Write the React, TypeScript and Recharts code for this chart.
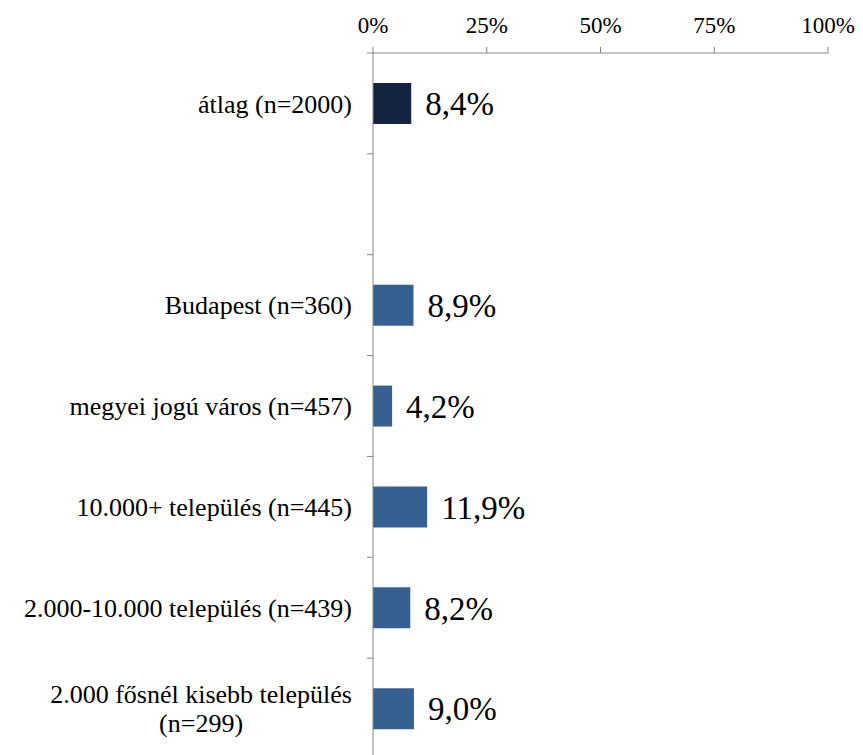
import React from 'react';
import { BarChart, Bar, XAxis, YAxis, Cell, LabelList } from 'recharts';

const categories = [
  'átlag (n=2000)',
  '',
  'Budapest (n=360)',
  'megyei jogú város (n=457)',
  '10.000+ település (n=445)',
  '2.000-10.000 település (n=439)',
  '2.000 fősnél kisebb település\n(n=299)',
];
const shares = [8.4, null, 8.9, 4.2, 11.9, 8.2, 9.0];
const percentTicks = [0, 25, 50, 75, 100];

const data = categories.map((name, i) => ({ name, value: shares[i] }));

const FONT = "'Liberation Serif', 'Times New Roman', Tinos, 'DejaVu Serif', serif";
const AXIS_GRAY = '#868686';
const W = 863;
const H = 760;
const MARGIN = { top: 8, right: 35, bottom: 1, left: 0 };
const X_AXIS_H = 45;
const BAND = (H - MARGIN.top - MARGIN.bottom - X_AXIS_H) / categories.length;
const LABEL_SIZE = 26;
const LINE_H = 29;

let ctx: CanvasRenderingContext2D | null = null;
const measure = (s: string) => {
  if (!ctx) ctx = document.createElement('canvas').getContext('2d');
  if (!ctx) return s.length * LABEL_SIZE * 0.45;
  ctx.font = `${LABEL_SIZE}px ${FONT}`;
  return ctx.measureText(s).width;
};

const CategoryTick = (props: any) => {
  const { x, y, payload } = props;
  const axisX = x + 21;
  const lines = String(payload.value).split('\n').filter((l) => l.length > 0);
  const widest = Math.max(0, ...lines.map(measure));
  const centerX = x - widest / 2;
  const firstY = y - ((lines.length - 1) * LINE_H) / 2;
  return (
    <g>
      <line x1={axisX - 6} x2={axisX} y1={y - BAND / 2} y2={y - BAND / 2} stroke={AXIS_GRAY} />
      {lines.map((line, i) => (
        <text
          key={i}
          x={lines.length > 1 ? centerX : x}
          y={firstY + i * LINE_H}
          dy="0.35em"
          textAnchor={lines.length > 1 ? 'middle' : 'end'}
          style={{ fontFamily: FONT, fontSize: LABEL_SIZE }}
          fill="#000"
        >
          {line}
        </text>
      ))}
    </g>
  );
};

const fmtValue = (v: any) =>
  v === null || v === undefined ? '' : `${Number(v).toFixed(1).replace('.', ',')}%`;

export default function App() {
  return (
    <div style={{ position: 'absolute', left: 0, top: 0, background: '#fff', fontFamily: FONT }}>
      <BarChart width={W} height={H} data={data} layout="vertical" margin={MARGIN} barCategoryGap={0}>
        <XAxis
          type="number"
          orientation="top"
          domain={[0, 100]}
          ticks={percentTicks}
          tickFormatter={(v) => `${v}%`}
          height={X_AXIS_H}
          tickSize={6}
          tickMargin={14}
          stroke={AXIS_GRAY}
          tick={{ fill: '#000', fontSize: 23, style: { fontFamily: FONT } }}
          interval={0}
        />
        <YAxis
          type="category"
          dataKey="name"
          width={373}
          tickLine={false}
          tickMargin={21}
          tickSize={0}
          stroke={AXIS_GRAY}
          tick={<CategoryTick />}
          interval={0}
        />
        <Bar dataKey="value" barSize={41} isAnimationActive={false}>
          {data.map((d, i) => (
            <Cell key={i} fill={i === 0 ? '#12243f' : '#376092'} />
          ))}
          <LabelList
            dataKey="value"
            position="right"
            offset={14}
            formatter={fmtValue}
            fill="#000"
            fontSize={33}
            style={{ fontFamily: FONT }}
          />
        </Bar>
      </BarChart>
    </div>
  );
}
